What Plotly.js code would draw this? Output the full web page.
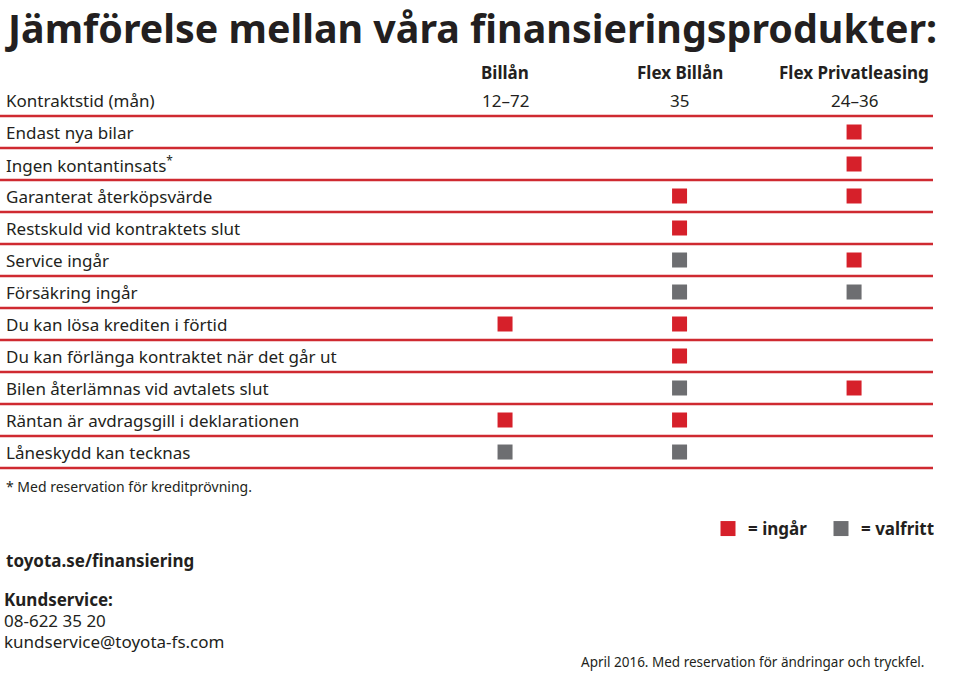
<!DOCTYPE html>
<html>
<head>
<meta charset="utf-8">
<script src="https://cdn.plot.ly/plotly-3.0.1.min.js"></script>
<style>html,body{margin:0;padding:0;background:#fff}#chart{width:960px;height:673px}</style>
</head>
<body>
<div id="chart"></div>
<script>
// ---- data ----
const titleText = "Jämförelse mellan våra finansieringsprodukter:";
const columns = ["Billån", "Flex Billån", "Flex Privatleasing"];
const contractLabel = "Kontraktstid (mån)";
const contractMonths = ["12–72", "35", "24–36"];
const features = [
  "Endast nya bilar",
  "Ingen kontantinsats<sup>*</sup>",
  "Garanterat återköpsvärde",
  "Restskuld vid kontraktets slut",
  "Service ingår",
  "Försäkring ingår",
  "Du kan lösa krediten i förtid",
  "Du kan förlänga kontraktet när det går ut",
  "Bilen återlämnas vid avtalets slut",
  "Räntan är avdragsgill i deklarationen",
  "Låneskydd kan tecknas"
];
// "i" = ingår (included), "v" = valfritt (optional), "" = not available
const billan      = ["", "", "", "", "", "", "i", "", "", "i", "v"];
const flexBillan  = ["", "", "i", "i", "v", "v", "i", "i", "v", "i", "v"];
const flexPrivat  = ["i", "i", "i", "", "i", "v", "", "", "i", "", ""];
const legendNames = ["= ingår", "= valfritt"];
const footnote = "* Med reservation för kreditprövning.";
const website = "toyota.se/finansiering";
const serviceTitle = "Kundservice:";
const servicePhone = "08-622 35 20";
const serviceMail = "kundservice@toyota-fs.com";
const disclaimer = "April 2016. Med reservation för ändringar och tryckfel.";

// ---- build ----
const RED = "#d6202a", GRAY = "#6d6e71", TXT = "#231f20", LINE = "#cf2a31";
const FONT = "Noto Sans, sans-serif";
const matrix = [billan, flexBillan, flexPrivat];
const xi = [], yi = [], xv = [], yv = [];
matrix.forEach((col, c) => col.forEach((v, r) => {
  if (v === "i") { xi.push(c); yi.push(r + 1); }
  if (v === "v") { xv.push(c); yv.push(r + 1); }
}));

const traces = [
  {x: xi, y: yi, type: "scatter", mode: "markers", name: legendNames[0],
   marker: {symbol: "square", size: 15, color: RED, line: {width: 0}}, hoverinfo: "skip"},
  {x: xv, y: yv, type: "scatter", mode: "markers", name: legendNames[1],
   marker: {symbol: "square", size: 15, color: GRAY, line: {width: 0}}, hoverinfo: "skip"}
];

const ann = [];
const base = {showarrow: false, font: {family: FONT, size: 17, color: TXT}};
ann.push(Object.assign({}, base, {x: 4/960, y: 1, xref: "paper", yref: "paper", text: titleText,
  xanchor: "left", yanchor: "top", borderpad: 0, font: {family: FONT, size: 39.4, color: TXT, weight: 700}}));
columns.forEach((c, k) => ann.push(Object.assign({}, base, {
  x: k, y: -0.85, xref: "x", yref: "y", text: c, xanchor: "center", yanchor: "middle",
  font: {family: FONT, size: 17, color: TXT, weight: 700}})));
contractMonths.forEach((c, k) => ann.push(Object.assign({}, base, {
  x: k, y: 0, xref: "x", yref: "y", text: c, xanchor: "center", yanchor: "middle"})));
ann.push(Object.assign({}, base, {x: 4/960, y: 0, xref: "paper", yref: "y", text: contractLabel, xanchor: "left", yanchor: "middle"}));
features.forEach((f, r) => ann.push(Object.assign({}, base, {
  x: 4/960, y: r + 1, xref: "paper", yref: "y", text: f, xanchor: "left", yanchor: "middle"})));
ann.push(Object.assign({}, base, {x: 4/960, y: 1 - 486/673, xref: "paper", yref: "paper", text: footnote, xanchor: "left", yanchor: "middle", font: {family: FONT, size: 14, color: TXT}}));
ann.push(Object.assign({}, base, {x: 4/960, y: 1 - 560/673, xref: "paper", yref: "paper", text: website, xanchor: "left", yanchor: "middle", font: {family: FONT, size: 17, color: TXT, weight: 700}}));
ann.push(Object.assign({}, base, {x: 2/960, y: 1 - 599/673, xref: "paper", yref: "paper", text: serviceTitle, xanchor: "left", yanchor: "middle", font: {family: FONT, size: 17, color: TXT, weight: 700}}));
ann.push(Object.assign({}, base, {x: 2/960, y: 1 - 620/673, xref: "paper", yref: "paper", text: servicePhone, xanchor: "left", yanchor: "middle"}));
ann.push(Object.assign({}, base, {x: 2/960, y: 1 - 641/673, xref: "paper", yref: "paper", text: serviceMail, xanchor: "left", yanchor: "middle"}));
ann.push(Object.assign({}, base, {x: 926/960, y: 1 - 662/673, xref: "paper", yref: "paper", text: disclaimer, xanchor: "right", yanchor: "middle", font: {family: FONT, size: 13.5, color: TXT}}));

const shapes = [];
for (let r = 0; r <= features.length; r++) {
  shapes.push({type: "line", xref: "paper", yref: "y", x0: 0, x1: 933/960, y0: r + 0.5, y1: r + 0.5,
    line: {color: LINE, width: 2.5}});
}

const layout = {
  width: 960, height: 673,
  margin: {l: 0, r: 0, t: 0, b: 0},
  paper_bgcolor: "#fff", plot_bgcolor: "#fff",
  xaxis: {range: [-2.894, 2.607], visible: false, fixedrange: true},
  yaxis: {range: [17.906, -3.125], visible: false, fixedrange: true},
  showlegend: true,
  legend: {orientation: "h", x: 708/960, y: 1 - 529/673, xanchor: "left", yanchor: "middle",
           font: {family: FONT, size: 17, color: TXT, weight: 700}, bgcolor: "rgba(0,0,0,0)",
           entrywidth: 68, entrywidthmode: "pixels", itemclick: false, itemdoubleclick: false},
  annotations: ann,
  shapes: shapes
};

Plotly.newPlot("chart", traces, layout, {staticPlot: true, displayModeBar: false});
</script>
</body>
</html>
